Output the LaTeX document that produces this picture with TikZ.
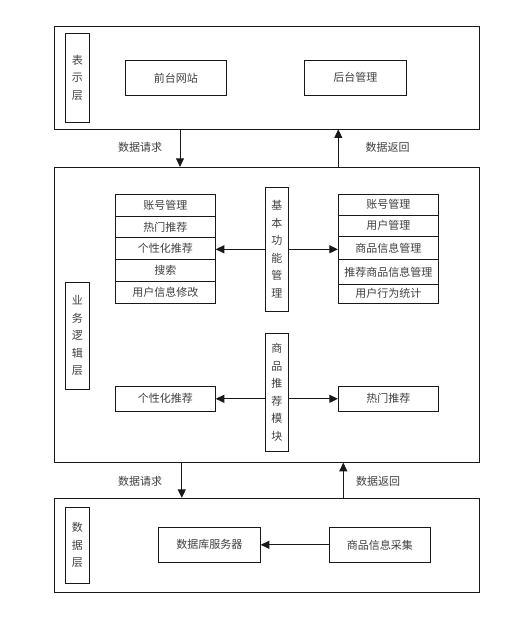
\documentclass[tikz,border=0pt]{standalone}
\usepackage{fontspec}
\newfontfamily\cjk{Noto Sans CJK SC}
\usetikzlibrary{arrows.meta}
\begin{document}
\begin{tikzpicture}[x=1pt,y=-1pt,
		box/.style={draw=black!90, line width=0.9pt, inner sep=0pt, align=center, text=black!75, font=\cjk\fontsize{11}{17.5}\selectfont},
		arr/.style={draw=black!90, line width=0.9pt, -{Triangle[length=8.5pt,width=8pt]}},
		lbl/.style={inner sep=0pt, text=black!75, font=\cjk\fontsize{11}{12}\selectfont}]
		\useasboundingbox[fill=white] (0,0) rectangle (531,617);

		% three layers
		\node[box, minimum width=425pt, minimum height=103pt] (show) at (266.8,77.5) {};
		\node[box, minimum width=425pt, minimum height=295pt] (logic) at (266.8,314.8) {};
		\node[box, minimum width=425pt, minimum height=94pt] (data) at (266.8,545.3) {};

		\node[box, minimum width=24pt, minimum height=88.7pt] (showname) at (77.3,77.7) {表\\示\\层};
		\node[box, minimum width=24pt, minimum height=107pt] (logicname) at (77.3,335.8) {业\\务\\逻\\辑\\层};
		\node[box, minimum width=24pt, minimum height=76pt] (dataname) at (77.3,545.3) {数\\据\\层};

		% presentation layer
		\node[box, minimum width=101pt, minimum height=35pt] (front) at (175.8,77.8) {前台网站};
		\node[box, minimum width=102pt, minimum height=35pt] (back) at (355.3,77.8) {后台管理};

		% business logic layer
		\node[box, minimum width=23pt, minimum height=123.7pt] (base) at (276.8,249.2) {基\\本\\功\\能\\管\\理};
		\node[box, minimum width=23pt, minimum height=117.7pt] (rec) at (276.8,392.2) {商\\品\\推\\荐\\模\\块};

		\foreach \n/\y/\t in {1/205.2/账号管理,2/227.0/热门推荐,3/248.8/个性化推荐,4/270.6/搜索,5/292.4/用户信息修改}
			\node[box, minimum width=100pt, minimum height=21.8pt] (l\n) at (165.3,\y) {\t};

		\foreach \n/\y/\h/\t in {1/204.8/21/账号管理,2/225.8/21/用户管理,3/247.8/23/商品信息管理,4/271.8/25/推荐商品信息管理,5/293.8/19/用户行为统计}
			\node[box, minimum width=100pt, minimum height=\h pt] (r\n) at (388.3,\y) {\t};

		\node[box, minimum width=100pt, minimum height=25pt] (pers) at (165.3,398.8) {个性化推荐};
		\node[box, minimum width=100pt, minimum height=25pt] (hot) at (388.3,398.8) {热门推荐};

		\draw[arr] (base.west |- 0,249.3) -- (l3.east |- 0,249.3);
		\draw[arr] (base.east |- 0,249.3) -- (r3.west |- 0,249.3);
		\draw[arr] (rec.west |- pers) -- (pers.east);
		\draw[arr] (rec.east |- hot) -- (hot.west);

		% data layer
		\node[box, minimum width=102pt, minimum height=35pt] (server) at (209.3,544.8) {数据库服务器};
		\node[box, minimum width=101pt, minimum height=35pt] (collect) at (379.8,544.8) {商品信息采集};
		\draw[arr] (collect) -- (server);

		% between layers
		\draw[arr] ([xshift=-86.8pt]show.south) -- ([xshift=-86.8pt]logic.north);
		\draw[arr] ([xshift=71.5pt]logic.north) -- ([xshift=71.5pt]show.south);
		\draw[arr] ([xshift=-85pt]logic.south) -- ([xshift=-85pt]data.north);
		\draw[arr] ([xshift=76.5pt]data.north) -- ([xshift=76.5pt]logic.south);

		\node[lbl] (req1) at (140,147.7) {数据请求};
		\node[lbl] (ret1) at (387.7,147.7) {数据返回};
		\node[lbl] (req2) at (140,481) {数据请求};
		\node[lbl] (ret2) at (378,481) {数据返回};
	\end{tikzpicture}
\end{document}
